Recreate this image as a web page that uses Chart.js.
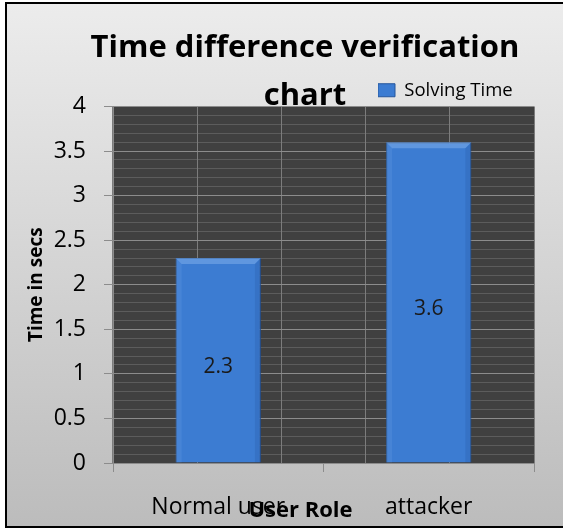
<!DOCTYPE html>
<html>
<head>
<meta charset="utf-8">
<script src="https://cdn.jsdelivr.net/npm/chart.js@4.4.1/dist/chart.umd.min.js"></script>
<style>
  html, body { margin: 0; padding: 0; background: #ffffff; overflow: hidden; }
  body { width: 563px; height: 528px; position: relative; }
  #frame { position: absolute; left: 5px; top: 2px; width: 560px; height: 522px;
           border-left: 2px solid #000; border-top: 2px solid #000; border-bottom: 2px solid #000;
           background: linear-gradient(#ececec, #bcbcbc); }
  #wrap { position: absolute; left: 0; top: 0; width: 563px; height: 528px; }
</style>
</head>
<body>
<div id="frame"></div>
<div id="wrap"><canvas id="c" width="563" height="528"></canvas></div>
<script>
// ---- data ----
const categories = ['Normal user', 'attacker'];
const solvingTime = [2.3, 3.6];
const seriesName = 'Solving Time';
const chartTitle = ['Time difference verification', 'chart'];
const xAxisTitle = 'User Role';
const yAxisTitle = 'Time in secs';
const yMin = 0, yMax = 4, yMajorStep = 0.5, yMinorStep = 0.1;

const FONT = "'Open Sans', 'DejaVu Sans', sans-serif";

const plotBackground = {
  id: 'plotBackground',
  beforeDraw(chart) {
    const { ctx, chartArea: a } = chart;
    ctx.save();
    ctx.fillStyle = '#404040';
    ctx.fillRect(a.left, a.top, a.right - a.left, a.bottom - a.top);
    ctx.restore();
  }
};

const placeBlocks = {
  id: 'placeBlocks',
  afterLayout(chart) {
    const t = chart.titleBlock;
    if (t) {
      const w = t.right - t.left;
      t.left = 305 - w / 2; t.right = 305 + w / 2;
    }
    const l = chart.legend;
    if (l) {
      const h = l.height;
      l.left = 378; l.right = 563; l.width = l.right - l.left;
      l.top = 81; l.bottom = 81 + h;
    }
    const xs = chart.scales.x;
    if (xs && !xs._titleShifted) {
      const orig = xs.drawTitle;
      xs.drawTitle = function () {
        const L = this.left;
        this.left = L - 46;       // axis title sits left of the plot centre
        orig.call(this);
        this.left = L;
      };
      xs._titleShifted = true;
    }
  }
};

const barDecor = {
  id: 'barDecor',
  afterDatasetsDraw(chart) {
    const { ctx } = chart;
    const meta = chart.getDatasetMeta(0);
    ctx.save();
    meta.data.forEach((el, i) => {
      const p = el.getProps(['x', 'y', 'base', 'width'], true);
      const l = p.x - p.width / 2, r = p.x + p.width / 2, t = p.y, b = p.base, bv = 6;
      // top bevel
      ctx.fillStyle = 'rgba(140,185,240,0.45)';
      ctx.beginPath(); ctx.moveTo(l, t); ctx.lineTo(r, t); ctx.lineTo(r - bv, t + bv); ctx.lineTo(l + bv, t + bv); ctx.closePath(); ctx.fill();
      // left bevel
      ctx.fillStyle = 'rgba(120,170,235,0.18)';
      ctx.beginPath(); ctx.moveTo(l, t); ctx.lineTo(l + bv, t + bv); ctx.lineTo(l + bv, b); ctx.lineTo(l, b); ctx.closePath(); ctx.fill();
      // right bevel
      ctx.fillStyle = 'rgba(20,60,130,0.15)';
      ctx.beginPath(); ctx.moveTo(r, t); ctx.lineTo(r - bv, t + bv); ctx.lineTo(r - bv, b); ctx.lineTo(r, b); ctx.closePath(); ctx.fill();
      // value label
      ctx.fillStyle = '#1a1a1a';
      ctx.font = "21px " + FONT;
      ctx.textAlign = 'center';
      ctx.textBaseline = 'middle';
      ctx.fillText(String(solvingTime[i]), p.x, (p.y + p.base) / 2 + 7);
    });
    ctx.restore();
  }
};

new Chart(document.getElementById('c'), {
  type: 'bar',
  data: {
    labels: categories,
    datasets: [{
      label: seriesName,
      data: solvingTime,
      backgroundColor: '#3c7cd2',
      borderColor: '#24569c',
      borderWidth: 1,
      categoryPercentage: 0.5,
      barPercentage: 0.81
    }]
  },
  options: {
    responsive: false,
    animation: false,
    layout: { padding: { left: 0, right: 29, top: 0, bottom: 0 } },
    plugins: {
      title: {
        display: true,
        text: chartTitle,
        color: '#000',
        font: { family: FONT, size: 31, weight: 'bold', lineHeight: '48px' },
        padding: { top: 24, bottom: -42 }
      },
      legend: {
        display: true,
        position: 'top',
        align: 'start',
        labels: { boxWidth: 17, boxHeight: 13, padding: 0, color: '#000', font: { family: FONT, size: 18.5 } }
      },
      tooltip: { enabled: false }
    },
    scales: {
      x: {
        type: 'category',
        offset: true,
        grid: { display: true, drawOnChartArea: false, drawTicks: true, tickLength: 9, color: '#8c8c8c', offset: true },
        border: { display: true, color: '#8c8c8c' },
        ticks: { color: '#000', font: { family: FONT, size: 23 }, padding: 22, maxRotation: 0 },
        title: { display: true, text: xAxisTitle, color: '#000', font: { family: FONT, size: 22, weight: 'bold' }, padding: { top: 0, bottom: 4 } },
        afterFit(s) { s.height = 65; }
      },
      x2: {
        type: 'linear', position: 'bottom', min: 0, max: 4,
        ticks: { display: false, stepSize: 1, maxTicksLimit: 100 },
        grid: { color: '#7c7c7c', drawTicks: false, tickLength: 0, z: -1 },
        border: { display: false },
        afterFit(s) { s.height = 0; }
      },
      y: {
        min: yMin, max: yMax,
        ticks: { stepSize: yMajorStep, color: '#000', font: { family: FONT, size: 23 }, padding: 18,
                 callback: (v) => String(Number(v.toFixed(2))) },
        grid: { color: '#8c8c8c', tickLength: 9, z: -1 },
        border: { display: true, color: '#8c8c8c' },
        title: { display: true, text: yAxisTitle, color: '#000', font: { family: FONT, size: 19, weight: 'bold' }, padding: { top: 25, bottom: 0 } },
        afterFit(s) { s.width = 113; }
      },
      y2: {
        position: 'left', min: yMin, max: yMax,
        ticks: { display: false, stepSize: yMinorStep, maxTicksLimit: 100 },
        grid: { color: '#5c5c5c', drawTicks: false, tickLength: 0, z: -2 },
        border: { display: false },
        afterFit(s) { s.width = 0; }
      }
    }
  },
  plugins: [plotBackground, placeBlocks, barDecor]
});
</script>
</body>
</html>
